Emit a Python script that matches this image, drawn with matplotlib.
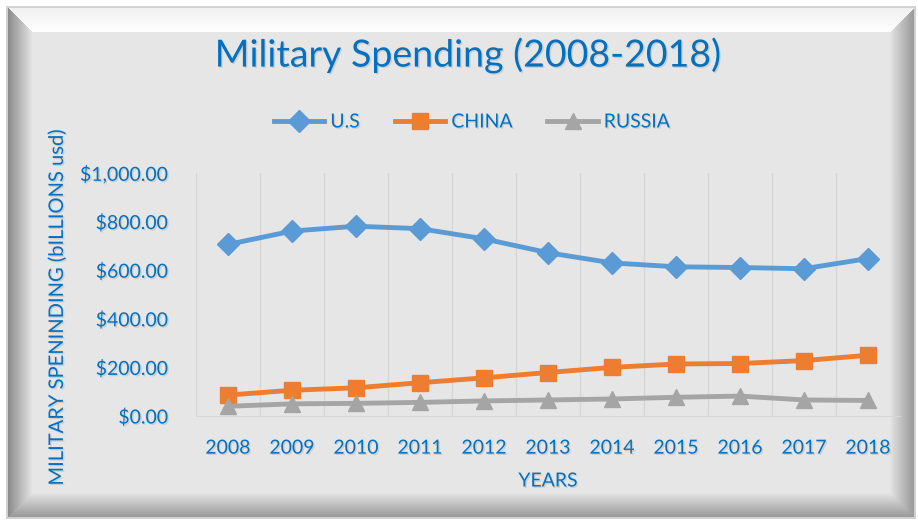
import numpy as np
import matplotlib
matplotlib.use("Agg")
import matplotlib.pyplot as plt
import matplotlib.patheffects as pe
from matplotlib.ticker import FuncFormatter

# military spending, billions USD
years = ["2008", "2009", "2010", "2011", "2012", "2013", "2014", "2015", "2016", "2017", "2018"]
us_spend = [706, 761, 781, 771, 729, 672, 630, 614, 611, 606, 648]
china_spend = [86, 106, 116, 137, 157, 179, 200, 214, 216, 228, 250]
russia_spend = [40, 50, 52, 56, 62, 66, 70, 77, 82, 66, 64]

W, H = 918, 521
BLUE_TXT = "#0070c0"
FONT = ["Lato", "DejaVu Sans"]
shadow = [pe.SimplePatchShadow(offset=(1.0, -1.0), shadow_rgbFace="#8a8a8a", alpha=0.25), pe.Normal()]


def bevel_background(w, h, x0=6, y0=6, x1=915, y1=518, bw=26):
    """Grey panel with a raised bevel edge, returned as an RGB image."""
    img = np.ones((h, w, 3))
    rr, cc = np.mgrid[0:h, 0:w]
    inside = (cc >= x0) & (cc <= x1) & (rr >= y0) & (rr <= y1)
    d = np.stack([cc - x0, rr - y0, x1 - cc, y1 - rr])  # left, top, right, bottom
    side = np.argmin(d, axis=0)
    m = np.min(d, axis=0)
    t = np.clip(m / bw, 0, 1)
    val = np.full((h, w), 0.902)
    edge = inside & (m < bw)
    shades = [0.52 + 0.38 * t,   # left: dark
              0.94 + 0.06 * t,   # top: highlight
              0.58 + 0.32 * t,   # right
              0.58 + 0.32 * t]   # bottom
    for k in range(4):
        sel = edge & (side == k)
        val[sel] = shades[k][sel]
    val[~inside] = 1.0
    border = inside & (m < 2)
    val[border] = 0.82
    img[...] = val[..., None]
    return img


fig = plt.figure(figsize=(W / 100, H / 100), dpi=100)
bg = fig.add_axes([0, 0, 1, 1])
bg.imshow(bevel_background(W, H), aspect="auto", interpolation="bilinear")
bg.axis("off")

left, right, top, bottom = 196, 900, 173, 416
ax = fig.add_axes([left / W, 1 - bottom / H, (right - left) / W, (bottom - top) / H])
ax.set_facecolor("none")

x = np.arange(len(years))
ax.plot(x, us_spend, color="#5b9bd5", lw=3.5, marker="D", ms=11, label="U.S", zorder=3)
ax.plot(x, china_spend, color="#ed7d31", lw=3.5, marker="s", ms=11, label="CHINA", zorder=3)
ax.plot(x, russia_spend, color="#a5a5a5", lw=3.5, marker="^", ms=12, label="RUSSIA", zorder=3)

ax.set_xlim(-0.5, len(years) - 0.5)
ax.set_ylim(0, 1000)
ax.set_yticks(np.arange(0, 1001, 200))
ax.yaxis.set_major_formatter(FuncFormatter(lambda v, p: f"${v:,.2f}"))
ax.set_xticks(x)
ax.set_xticklabels(years)
for b in np.arange(-0.5, len(years), 1.0):
    ax.axvline(b, color="#d6d6d6", lw=1, zorder=1)
for s in ["top", "right", "left"]:
    ax.spines[s].set_visible(False)
ax.spines["bottom"].set_color("#d6d6d6")
ax.tick_params(length=0, labelcolor=BLUE_TXT, labelsize=14)
ax.tick_params(axis="y", pad=20)
ax.tick_params(axis="x", pad=17)
for lab in ax.get_xticklabels() + ax.get_yticklabels():
    lab.set_family(FONT)
    lab.set_path_effects(shadow)

fig.text(468 / W, 1 - 55 / H, "Military Spending (2008-2018)", ha="center", va="center",
         fontsize=27, color=BLUE_TXT, family=FONT, path_effects=shadow)
fig.text(57 / W, 1 - 307 / H, "MILITARY SPENINDING (bILLIONS usd)", ha="center", va="center",
         rotation=90, fontsize=14.5, color=BLUE_TXT, family=FONT, path_effects=shadow)
fig.text(548 / W, 1 - 481 / H, "YEARS", ha="center", va="center",
         fontsize=14, color=BLUE_TXT, family=FONT, path_effects=shadow)

leg = fig.legend(loc="center", bbox_to_anchor=(472 / W, 1 - 122 / H), ncol=3, frameon=False,
                 prop={"family": FONT, "size": 14}, handlelength=2.6, columnspacing=1.8,
                 handletextpad=0.3)
for t in leg.get_texts():
    t.set_color(BLUE_TXT)
    t.set_path_effects(shadow)

fig.savefig("out.png", dpi=100)
